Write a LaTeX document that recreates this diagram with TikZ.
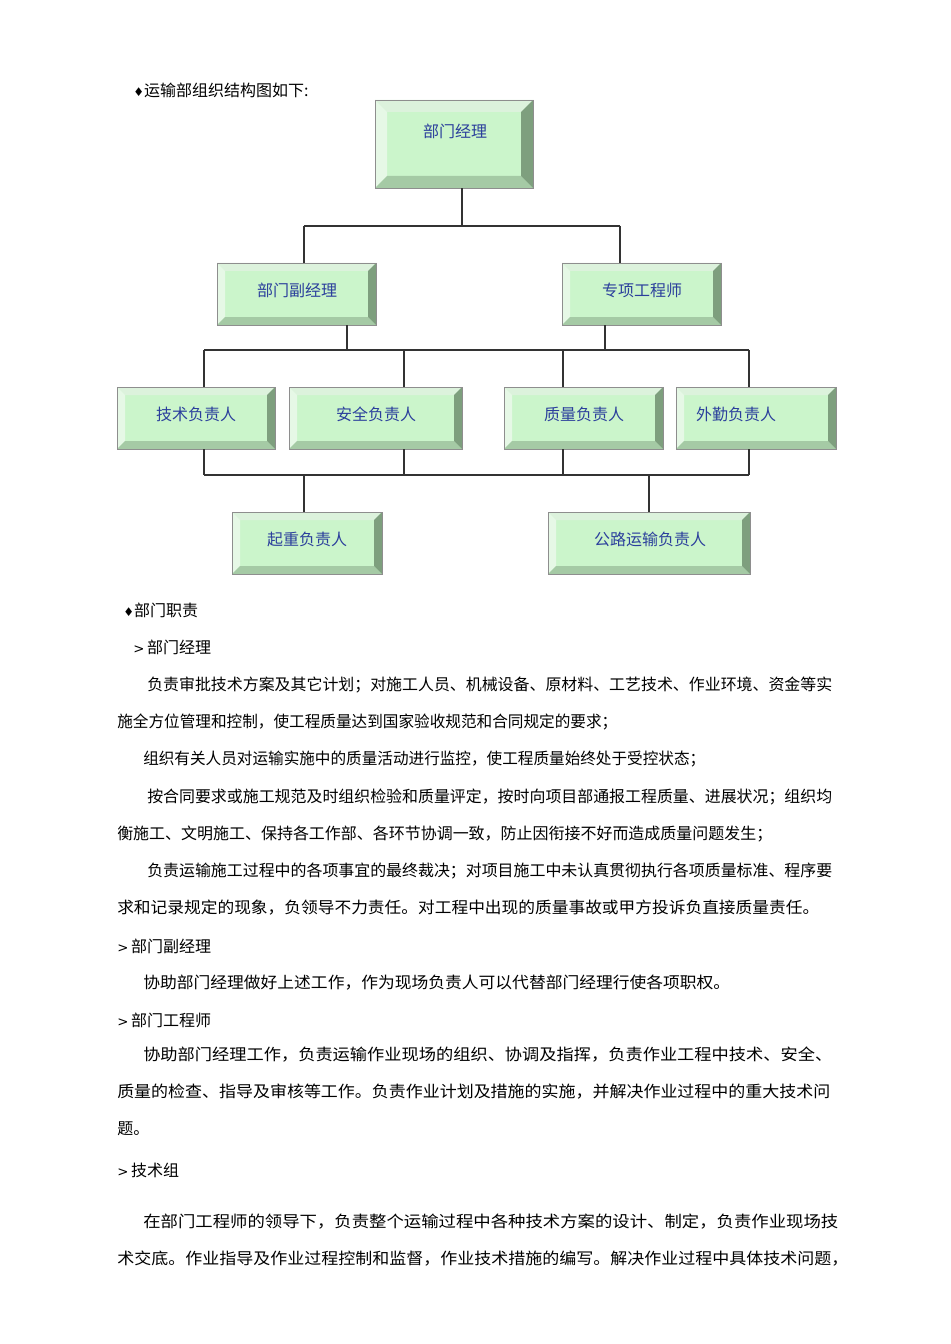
\documentclass[tikz,border=0pt]{standalone}
\usepackage{fontspec}
\usepackage{graphicx}
\setmainfont{Noto Sans CJK SC}
\newfontfamily\symf{DejaVu Sans}
\newlength\px \setlength\px{0.75pt}
\newcommand\fitto[2]{\resizebox{#1\px}{\height}{#2}}
\newcommand\dia{{\symf\fontsize{9pt}{10pt}\selectfont ♦}}
\newcommand\gtr{{\symf\fontsize{10pt}{10pt}\selectfont >}}
\definecolor{face}{HTML}{CBF5CB}
\definecolor{bevT}{HTML}{DCF2DC}
\definecolor{bevL}{HTML}{E6F8E6}
\definecolor{bevR}{HTML}{7E9F7E}
\definecolor{bevB}{HTML}{A5CAA5}
\definecolor{boxedge}{HTML}{8E8E8E}
\definecolor{boxtext}{HTML}{2B3F9C}
\tikzset{
  bw/.store in=\bw, bw=6pt,
  bevbox/.style={rectangle, draw=boxedge, line width=0.7pt, fill=face, inner sep=0,
    path picture={
      \fill[bevT] (path picture bounding box.north west) -- (path picture bounding box.north east)
        -- ([shift={(-\bw,-\bw)}]path picture bounding box.north east)
        -- ([shift={(\bw,-\bw)}]path picture bounding box.north west) -- cycle;
      \fill[bevL] (path picture bounding box.north west) -- (path picture bounding box.south west)
        -- ([shift={(\bw,\bw)}]path picture bounding box.south west)
        -- ([shift={(\bw,-\bw)}]path picture bounding box.north west) -- cycle;
      \fill[bevB] (path picture bounding box.south west) -- (path picture bounding box.south east)
        -- ([shift={(-\bw,\bw)}]path picture bounding box.south east)
        -- ([shift={(\bw,\bw)}]path picture bounding box.south west) -- cycle;
      \fill[bevR] (path picture bounding box.north east) -- (path picture bounding box.south east)
        -- ([shift={(-\bw,\bw)}]path picture bounding box.south east)
        -- ([shift={(-\bw,-\bw)}]path picture bounding box.north east) -- cycle;
    }},
  boxtxt/.style={inner sep=0, text=boxtext, font=\fontsize{12pt}{14pt}\selectfont},
  body/.style={anchor=west, inner sep=0, font=\fontsize{12pt}{14pt}\selectfont},
  conn/.style={line width=0.9pt, draw=black!80}
}
\begin{document}
\begin{tikzpicture}[x=0.75pt,y=-0.75pt]
\useasboundingbox[fill=white] (0,0) rectangle (950,1344);

% title
\node[body] (title) at (133,90) {\dia 运输部组织结构图如下:};

% boxes
\node[bevbox, bw=9pt, minimum width=158\px, minimum height=88\px] (b1) at (454,144) {};
\node[bevbox, minimum width=159\px, minimum height=62\px] (b2) at (296.5,294) {};
\node[bevbox, minimum width=159\px, minimum height=62\px] (b3) at (641.5,294) {};
\node[bevbox, minimum width=158\px, minimum height=62\px] (b4) at (196,418) {};
\node[bevbox, minimum width=173\px, minimum height=62\px] (b5) at (375.5,418) {};
\node[bevbox, minimum width=159\px, minimum height=62\px] (b6) at (583.5,418) {};
\node[bevbox, minimum width=160\px, minimum height=62\px] (b7) at (756,418) {};
\node[bevbox, minimum width=150\px, minimum height=62\px] (b8) at (307,543) {};
\node[bevbox, minimum width=202\px, minimum height=62\px] (b9) at (649,543) {};

\node[boxtxt] (t1) at (455,131) {部门经理};
\node[boxtxt] (t2) at (297,290) {部门副经理};
\node[boxtxt] (t3) at (642,290) {专项工程师};
\node[boxtxt] (t4) at (196,414) {技术负责人};
\node[boxtxt] (t5) at (376,414) {安全负责人};
\node[boxtxt] (t6) at (584,414) {质量负责人};
\node[boxtxt] (t7) at (736,414) {外勤负责人};
\node[boxtxt] (t8) at (307,539) {起重负责人};
\node[boxtxt] (t9) at (650,539) {公路运输负责人};

% connectors
\coordinate (j1) at (462,226);
\coordinate (h1L) at (304,226);
\coordinate (h1R) at (620,226);
\draw[conn] (b1.south -| j1) -- (j1);
\draw[conn] (h1L) -- (h1R);
\draw[conn] (h1L) -- (h1L |- b2.north);
\draw[conn] (h1R) -- (h1R |- b3.north);

\coordinate (j2a) at (347,350);
\coordinate (j2b) at (605,350);
\coordinate (h2L) at (204,350);
\coordinate (h2R) at (749,350);
\coordinate (h2a) at (404,350);
\coordinate (h2b) at (563,350);
\draw[conn] (b2.south -| j2a) -- (j2a);
\draw[conn] (b3.south -| j2b) -- (j2b);
\draw[conn] (h2L) -- (h2R);
\draw[conn] (h2L) -- (h2L |- b4.north);
\draw[conn] (h2a) -- (h2a |- b5.north);
\draw[conn] (h2b) -- (h2b |- b6.north);
\draw[conn] (h2R) -- (h2R |- b7.north);

\coordinate (h3L) at (204,475);
\coordinate (h3R) at (749,475);
\coordinate (h3a) at (404,475);
\coordinate (h3b) at (563,475);
\coordinate (j3a) at (304,475);
\coordinate (j3b) at (649,475);
\draw[conn] (b4.south -| h3L) -- (h3L);
\draw[conn] (b5.south -| h3a) -- (h3a);
\draw[conn] (b6.south -| h3b) -- (h3b);
\draw[conn] (b7.south -| h3R) -- (h3R);
\draw[conn] (h3L) -- (h3R);
\draw[conn] (j3a) -- (j3a |- b8.north);
\draw[conn] (j3b) -- (j3b |- b9.north);

% text
\node[body] (s1) at (123,610) {\dia 部门职责};
\node[body] (s2) at (133,647) {\gtr\,部门经理};
\node[body] (p1) at (147,685) {\fitto{685}{负责审批技术方案及其它计划；对施工人员、机械设备、原材料、工艺技术、作业环境、资金等实}};
\node[body] (p2) at (117,722) {\fitto{500}{施全方位管理和控制，使工程质量达到国家验收规范和合同规定的要求；}};
\node[body] (p3) at (143,759) {\fitto{562}{组织有关人员对运输实施中的质量活动进行监控，使工程质量始终处于受控状态；}};
\node[body] (p4) at (147,797) {\fitto{685}{按合同要求或施工规范及时组织检验和质量评定，按时向项目部通报工程质量、进展状况；组织均}};
\node[body] (p5) at (117,834) {\fitto{655}{衡施工、文明施工、保持各工作部、各环节协调一致，防止因衔接不好而造成质量问题发生；}};
\node[body] (p6) at (147,871) {\fitto{685}{负责运输施工过程中的各项事宜的最终裁决；对项目施工中未认真贯彻执行各项质量标准、程序要}};
\node[body] (p7) at (117,908) {\fitto{702}{求和记录规定的现象，负领导不力责任。对工程中出现的质量事故或甲方投诉负直接质量责任。}};
\node[body] (s3) at (117,946) {\gtr\,部门副经理};
\node[body] (p8) at (143,983) {\fitto{587}{协助部门经理做好上述工作，作为现场负责人可以代替部门经理行使各项职权。}};
\node[body] (s4) at (117,1020) {\gtr\,部门工程师};
\node[body] (p9) at (143,1055) {\fitto{689}{协助部门经理工作，负责运输作业现场的组织、协调及指挥，负责作业工程中技术、安全、}};
\node[body] (p10) at (117,1092) {\fitto{713}{质量的检查、指导及审核等工作。负责作业计划及措施的实施，并解决作业过程中的重大技术问}};
\node[body] (p11) at (117,1129) {题。};
\node[body] (s5) at (117,1170) {\gtr\,技术组};
\node[body] (p12) at (143,1222) {\fitto{695}{在部门工程师的领导下，负责整个运输过程中各种技术方案的设计、制定，负责作业现场技}};
\node[body] (p13) at (117,1259) {\fitto{731}{术交底。作业指导及作业过程控制和监督，作业技术措施的编写。解决作业过程中具体技术问题，}};
\end{tikzpicture}
\end{document}
